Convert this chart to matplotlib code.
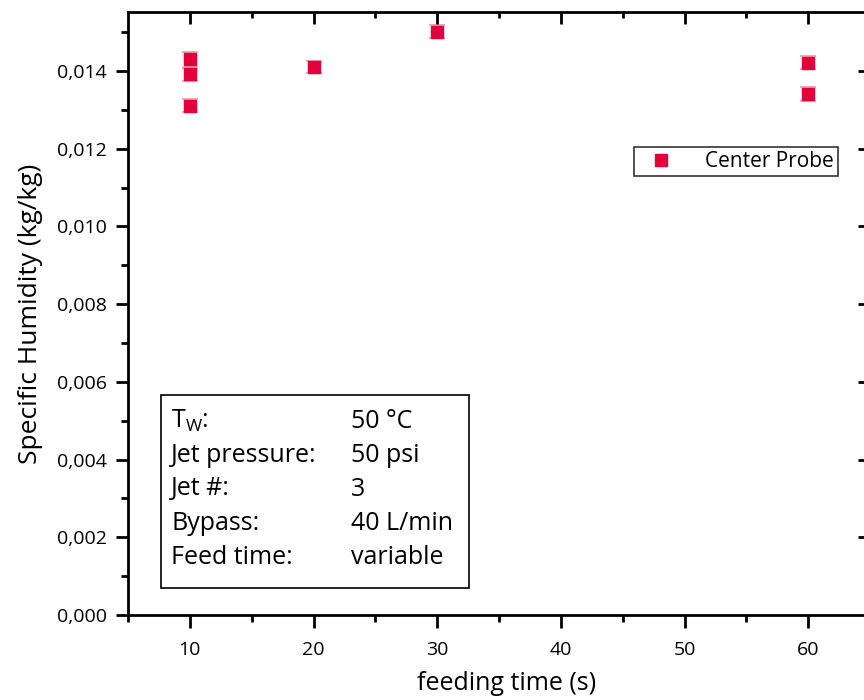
import matplotlib.pyplot as plt
from matplotlib.ticker import FuncFormatter, MultipleLocator

# data
feed_time = [10, 10, 10, 20, 30, 60, 60]
humidity = [0.01430, 0.01392, 0.01311, 0.01411, 0.01501, 0.01422, 0.01340]
humidity_err = [0.00019, 0.00017, 0.00016, 0.00016, 0.00017, 0.00016, 0.00018]

box_keys = ["T$_\\mathregular{W}$:", "Jet pressure:", "Jet #:", "Bypass:", "Feed time:"]
box_vals = ["50 °C", "50 psi", "3", "40 L/min", "variable"]

plt.rcParams['font.family'] = ['Open Sans', 'DejaVu Sans']

fig = plt.figure(figsize=(8.64, 7.0), dpi=100)
ax = fig.add_axes([128/864, 85/700, 742/864, 603/700])

red = '#e4003a'
ax.errorbar(feed_time, humidity, yerr=humidity_err, fmt='none',
            ecolor='#f5a3b6', elinewidth=1.2, capsize=6, capthick=1.5, zorder=2)
ax.plot(feed_time, humidity, 's', color=red, markersize=9, label='Center Probe', zorder=3)

ax.set_xlim(5, 65)
ax.set_ylim(0, 0.01552)
ax.xaxis.set_major_locator(MultipleLocator(10))
ax.xaxis.set_minor_locator(MultipleLocator(5))
ax.yaxis.set_major_locator(MultipleLocator(0.002))
ax.yaxis.set_minor_locator(MultipleLocator(0.001))
ax.yaxis.set_major_formatter(FuncFormatter(lambda v, p: f"{v:.3f}".replace('.', ',')))
ax.xaxis.set_major_formatter(FuncFormatter(lambda v, p: f"{v:.0f}"))

for s in ax.spines.values():
    s.set_linewidth(2)

ax.tick_params(axis='both', which='major', labelsize=14, width=2, length=9)
ax.tick_params(axis='both', which='minor', width=2, length=5)
ax.tick_params(axis='both', which='both', direction='out', top=False, right=False)
ax.tick_params(axis='x', which='major', pad=10)
ax.tick_params(axis='y', which='major', pad=6)

ax.set_xlabel('feeding time (s)', fontsize=18)
ax.xaxis.set_label_coords((507-128)/742, -0.093)
ax.set_ylabel('Specific Humidity (kg/kg)', fontsize=19, labelpad=10)

leg = ax.legend(loc='upper left', bbox_to_anchor=((634-128)/742, (615-147)/603),
                frameon=True, fancybox=False, fontsize=15, handletextpad=1.0,
                borderpad=0.2, borderaxespad=0, handlelength=2.2)
leg.get_frame().set_edgecolor('black')
leg.get_frame().set_linewidth(1.2)

# parameter box
bx0, by0 = (161-128)/742, (615-588)/603
bw, bh = (469-161)/742, (588-395)/603
ax.add_patch(plt.Rectangle((bx0, by0), bw, bh, transform=ax.transAxes,
                           fill=False, edgecolor='black', linewidth=1.2))
for i, (k, v) in enumerate(zip(box_keys, box_vals)):
    yy = (615-421-i*34)/603
    ax.text(bx0 + 10/742, yy, k, transform=ax.transAxes, fontsize=18, va='center')
    ax.text(bx0 + 190/742, yy, v, transform=ax.transAxes, fontsize=18, va='center')

# inward ticks on the top and right spines, placed by the axis locators
x0, x1 = ax.get_xlim()
y0, y1 = ax.get_ylim()
xmaj = [v for v in ax.xaxis.get_majorticklocs() if x0 < v < x1]
xmin = [v for v in ax.xaxis.get_minorticklocs() if x0 < v < x1]
ymaj = [v for v in ax.yaxis.get_majorticklocs() if y0 < v < y1]
ymin = [v for v in ax.yaxis.get_minorticklocs() if y0 < v < y1]
ax.vlines(xmaj, 1 - 12/603, 1, transform=ax.get_xaxis_transform(),
          colors='black', linewidth=2, clip_on=False, zorder=6)
ax.vlines(xmin, 1 - 6/603, 1, transform=ax.get_xaxis_transform(),
          colors='black', linewidth=2, clip_on=False, zorder=6)
ax.hlines(ymaj, 1 - 12/742, 1, transform=ax.get_yaxis_transform(),
          colors='black', linewidth=2, clip_on=False, zorder=6)
ax.hlines(ymin, 1 - 6/742, 1, transform=ax.get_yaxis_transform(),
          colors='black', linewidth=2, clip_on=False, zorder=6)

fig.savefig('out.png', dpi=100)
